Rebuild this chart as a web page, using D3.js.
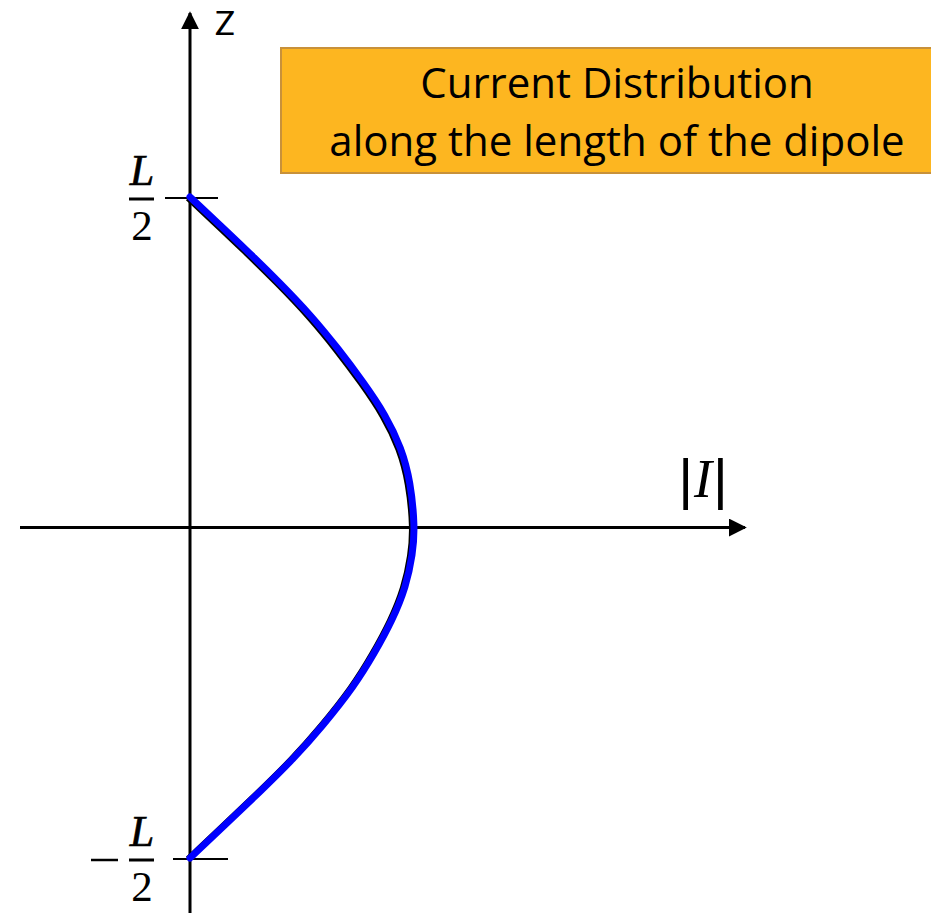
<!DOCTYPE html>
<html>
<head>
<meta charset="utf-8">
<script src="https://cdn.jsdelivr.net/npm/d3@7"></script>
<style>
  body { margin: 0; background: #fff; }
  svg { display: block; }
</style>
</head>
<body>
<div id="chart"></div>
<script>
// |I| (normalised) read along z (in units of L), top to bottom
let zValues = [0.5, 0.465, 0.42, 0.37, 0.32, 0.27, 0.22, 0.17, 0.12, 0.07, 0, -0.04, -0.09, -0.14, -0.19, -0.24, -0.30, -0.35, -0.40, -0.45, -0.5];
let iValues = [0, 0.11, 0.25, 0.40, 0.54, 0.66, 0.77, 0.87, 0.94, 0.98, 1, 0.99, 0.96, 0.90, 0.82, 0.73, 0.59, 0.46, 0.31, 0.155, 0];
let zTicks = [0.5, -0.5];
let titleLines = ["Current Distribution", "along the length of the dipole"];

let width = 931, height = 913;
let svg = d3.select('#chart').append('svg').attr('width', width).attr('height', height);

let x = d3.scaleLinear().domain([0, 1]).range([190, 415]);
let y = d3.scaleLinear().domain([-0.5, 0.5]).range([858, 197]);

let defs = svg.append('defs');
defs.append('marker').attr('id', 'arrow').attr('viewBox', '0 0 10 10')
    .attr('refX', 9).attr('refY', 5).attr('markerWidth', 6).attr('markerHeight', 6)
    .attr('markerUnits', 'strokeWidth').attr('orient', 'auto')
    .append('path').attr('d', 'M0,0 L10,5 L0,10 Z').attr('fill', '#000');

// axes
svg.append('line').attr('x1', 20).attr('y1', y(0)).attr('x2', 745).attr('y2', y(0))
    .attr('stroke', '#000').attr('stroke-width', 3).attr('marker-end', 'url(#arrow)');
svg.append('line').attr('x1', x(0)).attr('y1', 913).attr('x2', x(0)).attr('y2', 13)
    .attr('stroke', '#000').attr('stroke-width', 3).attr('marker-end', 'url(#arrow)');

// ticks at +-L/2
svg.selectAll('.tick').data(zTicks).enter().append('line').attr('class', 'tick')
    .attr('x1', function(d){ return d > 0 ? 165 : 173; })
    .attr('x2', function(d){ return d > 0 ? 218 : 228; })
    .attr('y1', function(d){ return y(d) + 1; }).attr('y2', function(d){ return y(d) + 1; })
    .attr('stroke', '#000').attr('stroke-width', 2);

// tick labels L/2 and -L/2
zTicks.forEach(function(d){
    let g = svg.append('g').attr('transform', 'translate(142,' + (y(d) + 2) + ')');
    g.append('text').attr('x', 0).attr('y', -14).attr('text-anchor', 'middle')
        .attr('font-family', 'Liberation Serif').attr('font-style', 'italic').attr('font-size', 44)
        .attr('stroke', '#000').attr('stroke-width', 0.6).text('L');
    g.append('line').attr('x1', -13).attr('x2', 12).attr('y1', 0).attr('y2', 0)
        .attr('stroke', '#000').attr('stroke-width', 3);
    g.append('text').attr('x', 0).attr('y', 41).attr('text-anchor', 'middle')
        .attr('font-family', 'Liberation Serif').attr('font-size', 43).text('2');
    if (d < 0) {
        g.append('line').attr('x1', -51).attr('x2', -24).attr('y1', 0).attr('y2', 0)
            .attr('stroke', '#000').attr('stroke-width', 2.5);
    }
});

// axis names
svg.append('text').attr('x', 225).attr('y', 35).attr('text-anchor', 'middle')
    .attr('font-family', 'Lato').attr('font-size', 33).text('Z');
let iLabel = svg.append('text').attr('x', 703).attr('y', 497).attr('text-anchor', 'middle')
    .attr('font-family', 'Liberation Serif').attr('font-size', 54);
iLabel.append('tspan').attr('stroke', '#000').attr('stroke-width', 2).text('|');
iLabel.append('tspan').attr('font-style', 'italic').attr('dx', 3).text('I');
iLabel.append('tspan').attr('dx', 3).attr('stroke', '#000').attr('stroke-width', 2).text('|');

// current distribution curve
let pts = zValues.map(function(z, i){ return [iValues[i], z]; });
let line = d3.line().x(function(d){ return x(d[0]); }).y(function(d){ return y(d[1]); })
    .curve(d3.curveBasis);
svg.append('path').datum(pts).attr('d', line).attr('fill', 'none')
    .attr('stroke', '#000').attr('stroke-width', 6).attr('transform', 'translate(-2,1)');
svg.append('path').datum(pts).attr('d', line).attr('fill', 'none')
    .attr('stroke', '#0000ff').attr('stroke-width', 7).attr('stroke-linecap', 'round');

// title box
svg.append('rect').attr('x', 281).attr('y', 48).attr('width', 660).attr('height', 125)
    .attr('fill', '#fdb620').attr('stroke', '#c8913a').attr('stroke-width', 2);
svg.selectAll('.title').data(titleLines).enter().append('text').attr('class', 'title')
    .attr('x', 617).attr('y', function(d, i){ return 98 + i * 58; })
    .attr('text-anchor', 'middle').attr('font-family', 'Open Sans').attr('font-size', 42)
    .attr('fill', '#000').text(function(d){ return d; });
</script>
</body>
</html>
